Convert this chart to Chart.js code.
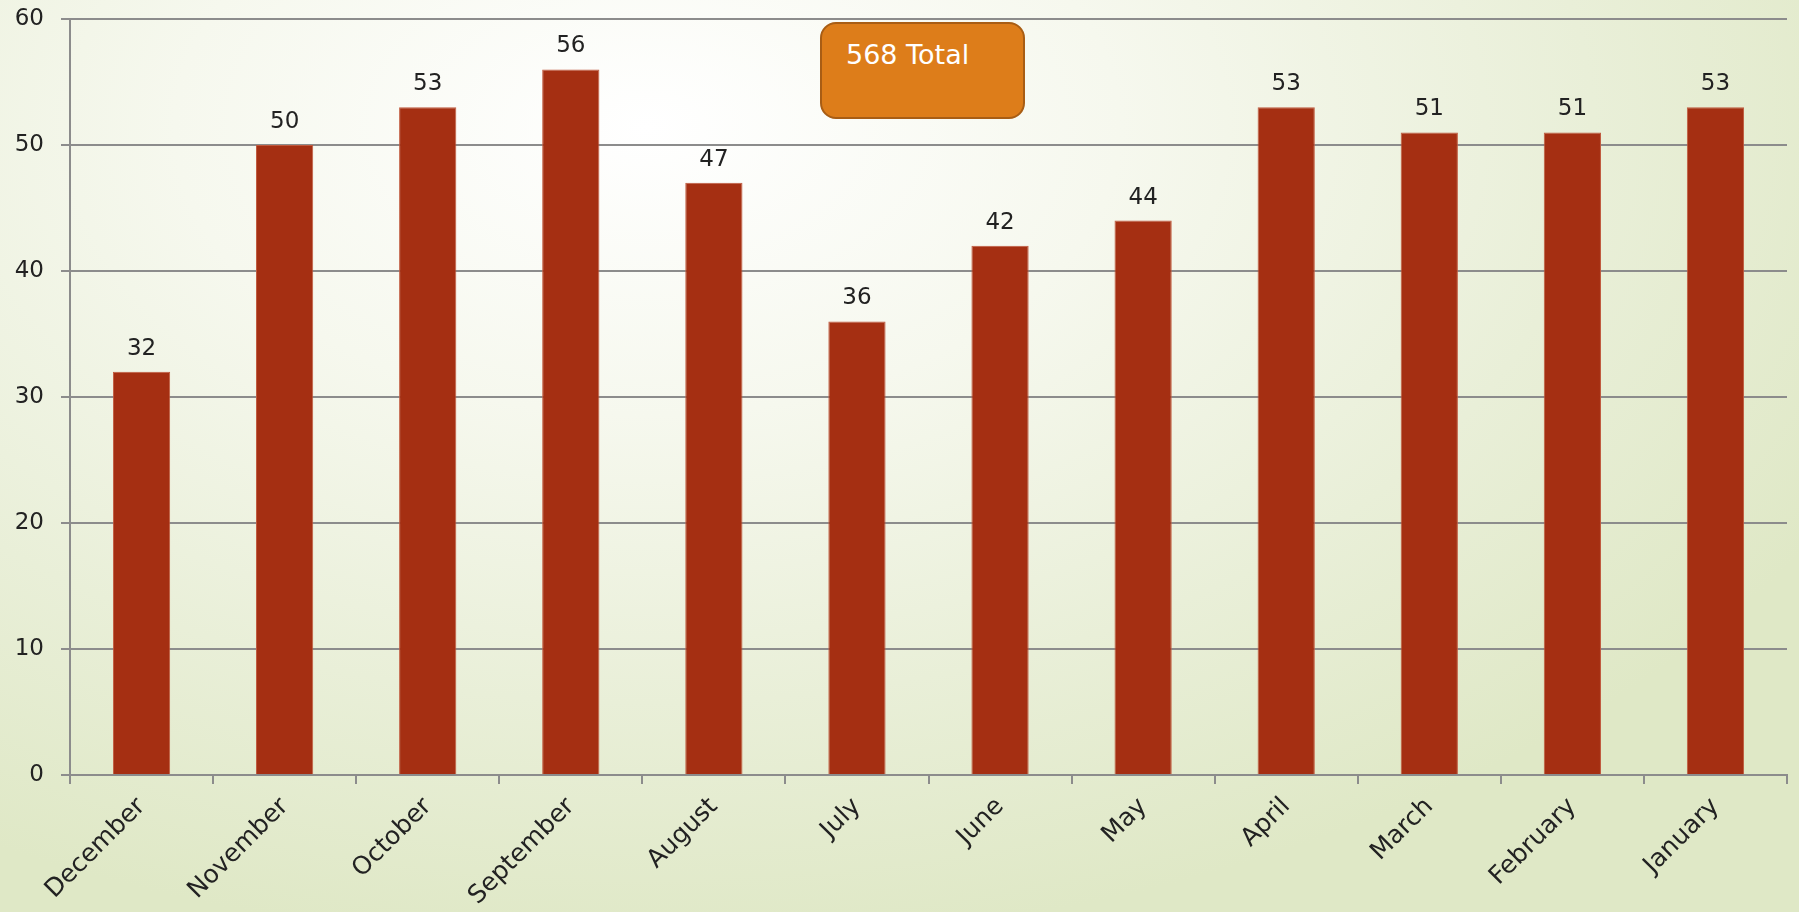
<!DOCTYPE html>
<html>
<head>
<meta charset="utf-8">
<script src="https://cdn.jsdelivr.net/npm/chart.js@4.4.1/dist/chart.umd.min.js"></script>
<style>
    html, body { margin: 0; padding: 0; width: 1799px; height: 912px; overflow: hidden; }
    body {
        position: relative;
        font-family: "DejaVu Sans", sans-serif;
        background: radial-gradient(ellipse 75% 90% at 36% 14%, #ffffff 0%, #f6f8ee 35%, #e9efd8 70%, #dfe8c6 100%);
    }
    #chartWrap { position: absolute; left: 0; top: 0; width: 1799px; height: 912px; }
    #totalBox {
        position: absolute;
        left: 820px; top: 22px;
        width: 205px; height: 97px;
        background: #dd7d1a;
        border: 2px solid #a85d14;
        border-radius: 16px;
        box-sizing: border-box;
        color: #ffffff;
        font-size: 27px;
        line-height: 30px;
        padding: 16px 0 0 24px;
    }
</style>
</head>
<body>
<div id="chartWrap"><canvas id="monthChart" width="1799" height="912"></canvas></div>
<div id="totalBox">568 Total</div>
<script>
const months = ["December", "November", "October", "September", "August", "July",
                "June", "May", "April", "March", "February", "January"];
const counts = [32, 50, 53, 56, 47, 36, 42, 44, 53, 51, 51, 53];
const yTicks = [0, 10, 20, 30, 40, 50, 60];

const barLabels = {
    id: "barLabels",
    afterDatasetsDraw(chart) {
        const ctx = chart.ctx;
        const meta = chart.getDatasetMeta(0);
        ctx.save();
        ctx.font = '23px "DejaVu Sans", sans-serif';
        ctx.fillStyle = "#222222";
        ctx.textAlign = "center";
        ctx.textBaseline = "alphabetic";
        meta.data.forEach(function (bar, i) {
            ctx.fillText(String(counts[i]), bar.x, bar.y - 17);
        });
        ctx.restore();
    }
};

const ctx = document.getElementById("monthChart").getContext("2d");
new Chart(ctx, {
    type: "bar",
    data: {
        labels: months,
        datasets: [{
            data: counts,
            backgroundColor: "#a52f12",
            borderColor: "#c05a3e",
            borderWidth: 1,
            barPercentage: 0.4,
            categoryPercentage: 1.0
        }]
    },
    options: {
        responsive: false,
        animation: false,
        layout: { padding: { top: 19, right: 12, left: 0, bottom: 0 } },
        plugins: {
            legend: { display: false },
            tooltip: { enabled: false }
        },
        scales: {
            x: {
                grid: {
                    color: "#8c8c8c",
                    lineWidth: 2,
                    drawOnChartArea: false,
                    tickLength: 9
                },
                border: { color: "#8c8c8c", width: 2 },
                ticks: {
                    color: "#222222",
                    font: { size: 25, family: '"DejaVu Sans", sans-serif' },
                    minRotation: 45,
                    maxRotation: 45,
                    padding: 8
                },
                afterFit(scale) {
                    scale.height = 137;
                    scale.paddingLeft = 0;
                    scale.paddingRight = 0;
                }
            },
            y: {
                min: 0,
                max: 60,
                afterBuildTicks(scale) { scale.ticks = yTicks.map(v => ({ value: v })); },
                grid: {
                    color: "#8c8c8c",
                    lineWidth: 2,
                    tickLength: 9
                },
                border: { color: "#8c8c8c", width: 2 },
                ticks: {
                    color: "#222222",
                    font: { size: 23, family: '"DejaVu Sans", sans-serif' },
                    padding: 17
                },
                afterFit(scale) {
                    scale.width = 70;
                    scale.paddingTop = 0;
                    scale.paddingBottom = 0;
                }
            }
        }
    },
    plugins: [barLabels]
});
</script>
</body>
</html>
